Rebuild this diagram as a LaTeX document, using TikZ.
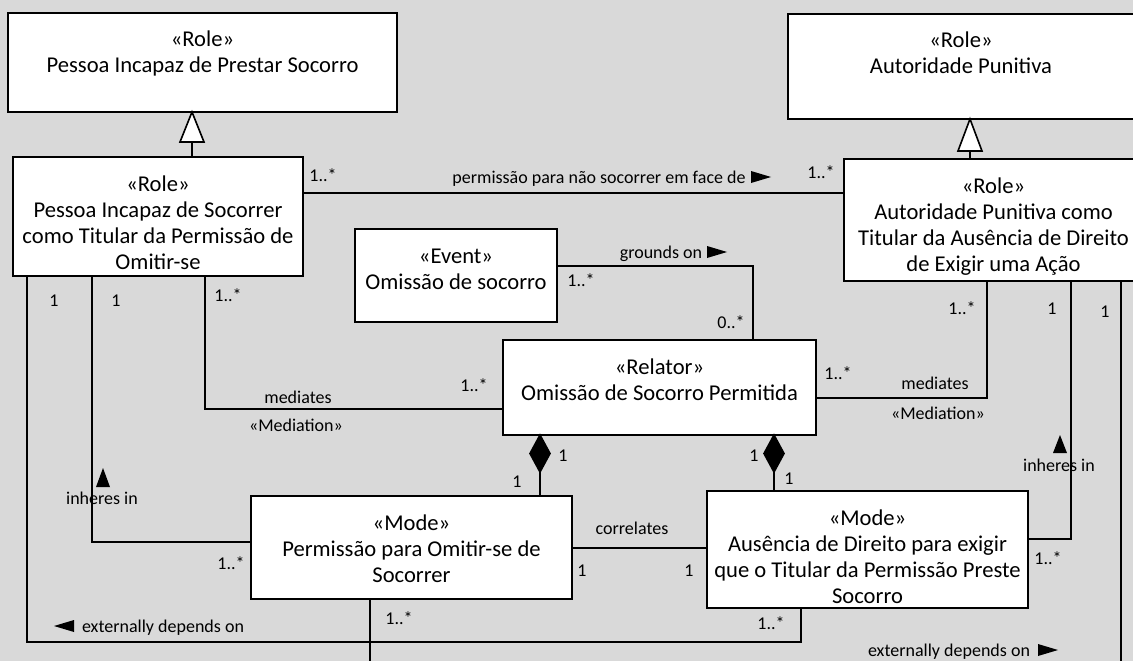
\documentclass[tikz,border=0pt]{standalone}
\usepackage{fontspec}
\setmainfont{Carlito}
\usetikzlibrary{calc}
\definecolor{bgc}{RGB}{217,217,217}
\newcommand\boxfont{\fontsize{22.6}{26}\selectfont}
\newcommand\lblfont{\fontsize{18}{21}\selectfont}
\newcommand\umlc[3]{\parbox[c][#2pt][t]{#1pt}{\centering\rule{0pt}{34pt}#3}}
\begin{document}
\begin{tikzpicture}[x=1pt,y=-1pt,line width=1.6pt,
  umlbox/.style={draw,fill=white,inner sep=0pt,outer sep=0pt,font=\boxfont},
  lbl/.style={font=\lblfont,inner sep=0pt,anchor=base}]
\useasboundingbox (0,0) rectangle (1133,661);
\fill[bgc] (0,0) rectangle (1133,661);
\clip (0,0) rectangle (1133,661);

% boxes
\node[umlbox] (A)  at (202.5,62.5) {\umlc{389}{99}{«Role»\\Pessoa Incapaz de Prestar Socorro}};
\node[umlbox] (AP) at (961,66.5)   {\umlc{346}{105}{«Role»\\Autoridade Punitiva}};
\node[umlbox] (B)  at (158,216.5)  {\umlc{290}{119}{«Role»\\Pessoa Incapaz de Socorrer\\como Titular da Permissão de\\Omitir-se}};
\node[umlbox] (D)  at (993.5,220)  {\umlc{299}{122}{«Role»\\Autoridade Punitiva como\\Titular da Ausência de Direito\\de Exigir uma Ação}};
\node[umlbox] (E)  at (456,275.5)  {\umlc{202}{93}{«Event»\\Omissão de socorro}};
\node[umlbox] (R)  at (659.5,387.5) {\umlc{313}{95}{«Relator»\\Omissão de Socorro Permitida}};
\node[umlbox] (M1) at (411.5,547.5) {\umlc{321}{103}{«Mode»\\Permissão para Omitir-se de\\Socorrer}};
\node[umlbox] (M2) at (867.5,549.5) {\umlc{321}{117}{«Mode»\\Ausência de Direito para exigir\\que o Titular da Permissão Preste\\Socorro}};

% routing coordinates
\coordinate (xg) at (192,0);
\coordinate (xgr) at (970,0);
\coordinate (x1) at (27,0);
\coordinate (x2) at (92,0);
\coordinate (x3) at (205,0);
\coordinate (xd1) at (987,0);
\coordinate (xd2) at (1071,0);
\coordinate (xd3) at (1121,0);
\coordinate (xm1) at (370,0);
\coordinate (xm2) at (801,0);
\coordinate (xgo) at (753,0);
\coordinate (xdl) at (540,0);
\coordinate (xdr) at (774,0);
\coordinate (ypm) at (0,193);
\coordinate (ygo) at (0,266);
\coordinate (ymedl) at (0,409);
\coordinate (ymedr) at (0,398);
\coordinate (yinl) at (0,542);
\coordinate (yinr) at (0,539);
\coordinate (ycorr) at (0,548);
\coordinate (yext) at (0,642);
\coordinate (ybot) at (0,700);

% generalizations
\draw (B.north -| xg) -- ($(A.south -| xg)+(0,30)$);
\filldraw[fill=white] (A.south -| xg) -- ++(-12,30) -- ++(24,0) -- cycle;
\draw (D.north -| xgr) -- ($(AP.south -| xgr)+(0,32)$);
\filldraw[fill=white] (AP.south -| xgr) -- ++(-12,32) -- ++(24,0) -- cycle;

% associations
\draw (B.east |- ypm) -- (D.west |- ypm);
\draw (E.east |- ygo) -| (R.north -| xgo);
\draw (B.south -| x3) |- (R.west |- ymedl);
\draw (R.east |- ymedr) -| (D.south -| xd1);
\draw (M1.east |- ycorr) -- (M2.west |- ycorr);
\draw (B.south -| x2) |- (M1.west |- yinl);
\draw (M2.east |- yinr) -| (D.south -| xd2);
\draw (B.south -| x1) -- (x1 |- yext) -- (xm2 |- yext) -- (M2.south -| xm2);
\draw (M1.south -| xm1) -- (xm1 |- ybot) -- (xd3 |- ybot) -- (D.south -| xd3);

% compositions
\filldraw[fill=black] (R.south -| xdl) -- ++(-10,18.5) -- ++(10,18.5) -- ++(10,-18.5) -- cycle;
\draw ($(R.south -| xdl)+(0,37)$) -- (M1.north -| xdl);
\filldraw[fill=black] (R.south -| xdr) -- ++(-10,18.5) -- ++(10,18.5) -- ++(10,-18.5) -- cycle;
\draw ($(R.south -| xdr)+(0,37)$) -- (M2.north -| xdr);

% direction marks
\fill (751,171) -- (771,177) -- (751,183) -- cycle;
\fill (707,246) -- (727,252) -- (707,258) -- cycle;
\fill (74,620) -- (54,626) -- (74,632) -- cycle;
\fill (1038,644) -- (1058,650) -- (1038,656) -- cycle;
\fill (96,487) -- (103,468) -- (110,487) -- cycle;
\fill (1053,453) -- (1060,435) -- (1067,453) -- cycle;

% labels
\node[lbl] (l1) at (323,181) {1..*};
\node[lbl] (l2) at (599,183) {permissão para não socorrer em face de};
\node[lbl] (l3) at (821,178) {1..*};
\node[lbl] (l4) at (661,258) {grounds on};
\node[lbl] (l5) at (581,286) {1..*};
\node[lbl] (l6) at (731,328) {0..*};
\node[lbl] (l7) at (54,306) {1};
\node[lbl] (l8) at (116,306) {1};
\node[lbl] (l9) at (228,301) {1..*};
\node[lbl] (l10) at (962,314) {1..*};
\node[lbl] (l11) at (1052,314) {1};
\node[lbl] (l12) at (1105,317) {1};
\node[lbl] (l13) at (298,403) {mediates};
\node[lbl] (l14) at (296,431) {«Mediation»};
\node[lbl] (l15) at (474,391) {1..*};
\node[lbl] (l16) at (838,379) {1..*};
\node[lbl] (l17) at (935,389) {mediates};
\node[lbl] (l18) at (938,419) {«Mediation»};
\node[lbl] (l19) at (517,487) {1};
\node[lbl] (l20) at (563,461) {1};
\node[lbl] (l21) at (754,461) {1};
\node[lbl] (l22) at (789,484) {1};
\node[lbl] (l23) at (102,504) {inheres in};
\node[lbl] (l24) at (231,569) {1..*};
\node[lbl] (l25) at (632,534) {correlates};
\node[lbl] (l26) at (582,576) {1};
\node[lbl] (l27) at (689,576) {1};
\node[lbl] (l28) at (1059,471) {inheres in};
\node[lbl] (l29) at (1048,564) {1..*};
\node[lbl] (l30) at (399,624) {1..*};
\node[lbl] (l31) at (771,629) {1..*};
\node[lbl] (l32) at (163,632) {externally depends on};
\node[lbl] (l33) at (949,656) {externally depends on};
\end{tikzpicture}
\end{document}
